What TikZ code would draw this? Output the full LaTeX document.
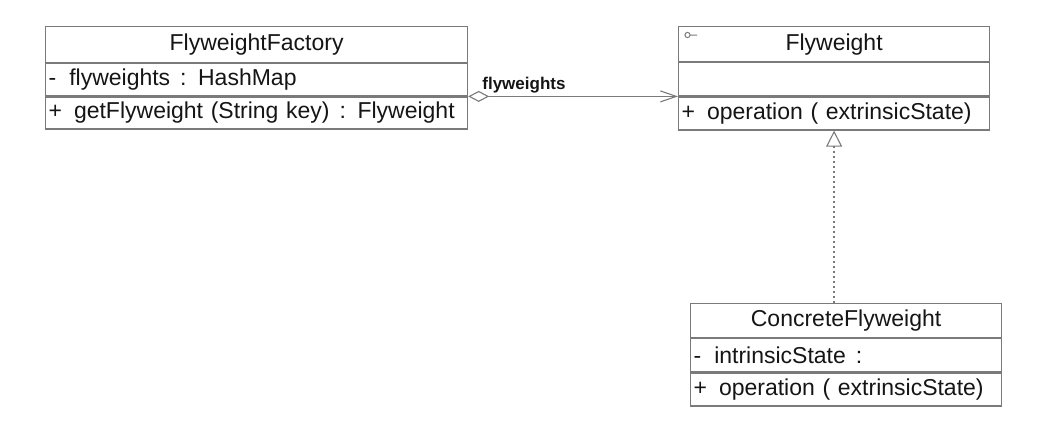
\documentclass[tikz,border=0pt]{standalone}
\usepackage{fontspec}
\setmainfont{Liberation Sans}
\usetikzlibrary{arrows.meta,positioning}
\definecolor{BoxLine}{HTML}{7A7A7A}
\definecolor{UmlText}{HTML}{151515}

\begin{document}
\begin{tikzpicture}[x=1pt,y=-1pt,
  classtitle/.style={draw=BoxLine,line width=1.2pt,inner sep=0pt,
    font=\fontsize{23}{27}\selectfont,text=UmlText},
  classrow/.style={draw=BoxLine,line width=1.2pt,inner xsep=3pt,inner ysep=0pt,
    align=left,font=\fontsize{23}{27}\selectfont,text=UmlText},
  umlline/.style={draw=BoxLine,line width=1.1pt}]
  \useasboundingbox (0,0) rectangle (1038,432);
  % FlyweightFactory
  \node[classtitle,minimum width=422pt,minimum height=36pt,anchor=north west] (fact) at (45,26) {FlyweightFactory};
  \node[classrow,text width=416pt,minimum height=32pt,below=0pt of fact] (factattr) {-\hspace{13pt}flyweights\hspace{10pt}: HashMap};
  \node[classrow,text width=416pt,minimum height=32pt,below=0pt of factattr] (factops) {\mbox{+\hspace{12pt}getFlyweight (String key)\hspace{10pt}: Flyweight}};
  % Flyweight
  \node[classtitle,minimum width=311pt,minimum height=35pt,anchor=north west] (fly) at (678,26) {Flyweight};
  \node[classrow,text width=305pt,minimum height=33pt,below=0pt of fly] (flyattr) {};
  \node[classrow,text width=305pt,minimum height=33pt,below=0pt of flyattr] (flyops) {+\hspace{12pt}operation ( extrinsicState)};
  \draw[BoxLine,line width=1pt] ([shift={(9.5,9)}]fly.north west) circle (2.6pt) ++(2.6,0) -- ++(7,0);
  % ConcreteFlyweight
  \node[classtitle,minimum width=311pt,minimum height=34pt,anchor=north west] (conc) at (690,303) {ConcreteFlyweight};
  \node[classrow,text width=305pt,minimum height=33pt,below=0pt of conc] (concattr) {-\hspace{13pt}intrinsicState\hspace{10pt}:};
  \node[classrow,text width=305pt,minimum height=33pt,below=0pt of concattr] (concops) {+\hspace{12pt}operation ( extrinsicState)};
  % relations
  \draw[umlline,{Diamond[open,length=21pt,width=11pt]}-{Straight Barb[length=16pt,width=11pt]}]
    (factattr.south east) -- (flyattr.south west);
  \node[font=\fontsize{17}{20}\selectfont\bfseries,text=UmlText,above right=3pt and 14pt of factattr.south east,inner sep=0pt] (agglabel) {flyweights};
  \draw[umlline,line width=1.4pt,dash pattern=on 2pt off 3pt,-{Triangle[open,length=16pt,width=16pt,line width=1.1pt]}]
    (flyops.south |- conc.north) -- (flyops.south);
\end{tikzpicture}
\end{document}
